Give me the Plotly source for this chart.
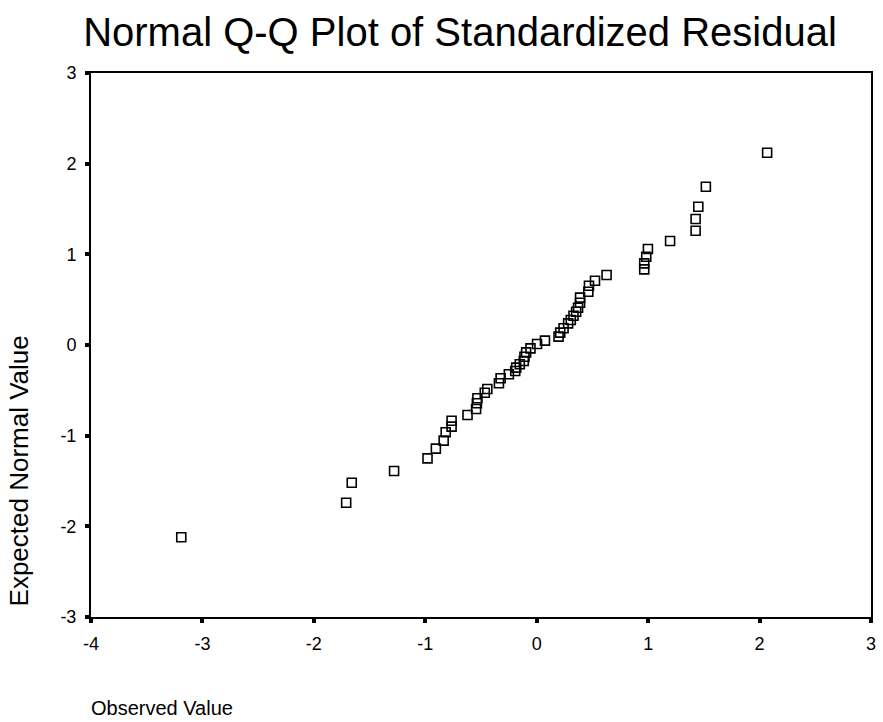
import plotly.graph_objects as go

observed = [-3.19, -1.71, -1.66, -1.28, -0.98, -0.905, -0.835, -0.817, -0.764, -0.764,
            -0.621, -0.544, -0.537, -0.532, -0.466, -0.443, -0.339, -0.324, -0.250, -0.193,
            -0.184, -0.152, -0.116, -0.110, -0.095, -0.056, 0.003, 0.074, 0.196, 0.211,
            0.241, 0.282, 0.306, 0.330, 0.354, 0.371, 0.389, 0.389, 0.463, 0.469,
            0.523, 0.627, 0.965, 0.965, 0.983, 0.998, 1.197, 1.426, 1.426, 1.450,
            1.518, 2.068]
expected = [-2.12, -1.74, -1.52, -1.39, -1.25, -1.143, -1.055, -0.963, -0.90, -0.835,
            -0.772, -0.706, -0.643, -0.588, -0.526, -0.485, -0.422, -0.367, -0.323, -0.287,
            -0.250, -0.213, -0.176, -0.129, -0.081, -0.037, 0.011, 0.048, 0.092, 0.136,
            0.184, 0.239, 0.276, 0.323, 0.367, 0.411, 0.466, 0.522, 0.588, 0.654,
            0.709, 0.772, 0.834, 0.90, 0.974, 1.058, 1.147, 1.260, 1.389, 1.525,
            1.745, 2.120]

x_ticks = [-4, -3, -2, -1, 0, 1, 2, 3]
y_ticks = [-3, -2, -1, 0, 1, 2, 3]

FONT = "Liberation Sans, Arial, sans-serif"

fig = go.Figure()
fig.add_trace(go.Scatter(
    x=observed, y=expected, mode="markers",
    marker=dict(symbol="square-open", size=9, color="black", line=dict(width=1.6, color="black")),
    showlegend=False, hoverinfo="x+y",
))

axis_common = dict(
    showline=True, linewidth=2, linecolor="black", mirror=True,
    showgrid=False, zeroline=False,
    ticks="outside", ticklen=4, tickwidth=4, tickcolor="black",
    tickfont=dict(family=FONT, size=18, color="black"),
    ticklabelstandoff=5,
)

fig.update_xaxes(range=[-4, 3], tickvals=x_ticks, ticktext=[str(v) for v in x_ticks], **axis_common)
fig.update_yaxes(range=[-3, 3], tickvals=y_ticks, ticktext=[str(v) for v in y_ticks], **axis_common)

fig.update_layout(
    width=883, height=722,
    margin=dict(l=91, r=7, t=73, b=105),
    paper_bgcolor="white", plot_bgcolor="white",
    font=dict(family=FONT, color="black"),
    title=dict(text="Normal Q-Q Plot of Standardized Residual",
               x=460 / 883, xanchor="center", xref="container",
               y=1 - 32 / 722, yanchor="middle",
               font=dict(family=FONT, size=40, color="black")),
    annotations=[
        dict(text="Expected Normal Value", textangle=-90, xref="paper", yref="paper",
             x=(19 - 91) / 785, y=(617 - 471) / 544, xanchor="center", yanchor="middle",
             showarrow=False, font=dict(family=FONT, size=26, color="black")),
        dict(text="Observed Value", xref="paper", yref="paper",
             x=-0.002, y=(617 - 708) / 544, xanchor="left", yanchor="middle",
             showarrow=False, font=dict(family=FONT, size=20, color="black")),
    ],
)

fig.write_html("out.html")
